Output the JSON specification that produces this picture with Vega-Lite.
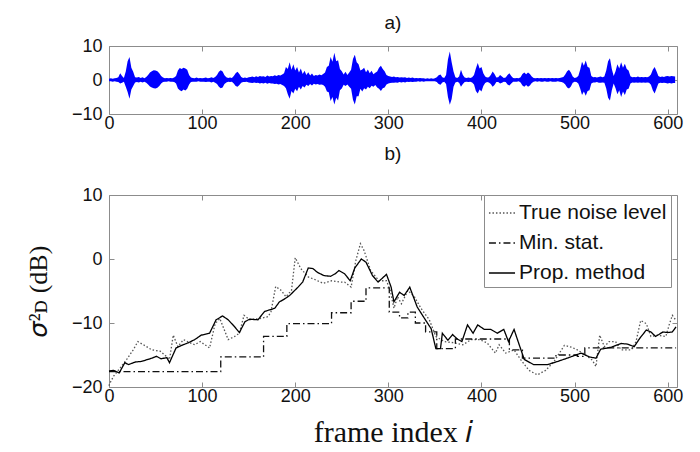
{
"$schema": "https://vega.github.io/schema/vega-lite/v6.json",
"background": "white",
"padding": {"left": 24, "top": 13, "right": 5, "bottom": 5},
"spacing": 11,
"config": {
 "font": "Liberation Sans",
 "view": {"stroke": "#8c8c8c", "strokeWidth": 1},
 "axis": {"domain": false, "grid": false, "tickSize": -5, "tickColor": "#8c8c8c", "labelFontSize": 18, "labelColor": "#111", "labelFont": "Liberation Sans", "labelFlush": false, "labelOverlap": false, "titleColor": "#111", "titleFontWeight": "normal"},
 "axisX": {"labelPadding": 5},
 "axisY": {"labelPadding": 12},
 "title": {"fontSize": 19, "fontWeight": "normal", "font": "Liberation Sans", "color": "#111"}
},
"datasets": {
 "wave": [
  {"frame":0,"lo":-0.4,"hi":0.4},{"frame":2,"lo":-0.4,"hi":0.5},{"frame":4,"lo":-0.5,"hi":0.4},{"frame":6,"lo":-0.4,"hi":0.5},{"frame":8,"lo":-0.5,"hi":0.6},{"frame":10,"lo":-0.6,"hi":0.8},{"frame":12,"lo":-1.0,"hi":2.0},{"frame":14,"lo":-0.8,"hi":1.2},{"frame":16,"lo":-0.5,"hi":0.6},{"frame":18,"lo":-2.0,"hi":2.5},
  {"frame":20,"lo":-3.5,"hi":5.5},{"frame":22,"lo":-5.5,"hi":6.8},{"frame":24,"lo":-2.8,"hi":3.6},{"frame":26,"lo":-1.8,"hi":2.4},{"frame":28,"lo":-0.7,"hi":0.8},{"frame":30,"lo":-0.6,"hi":0.7},{"frame":32,"lo":-0.7,"hi":0.9},{"frame":34,"lo":-0.5,"hi":0.6},{"frame":36,"lo":-0.7,"hi":0.8},{"frame":38,"lo":-0.5,"hi":0.5},
  {"frame":40,"lo":-0.8,"hi":0.9},{"frame":42,"lo":-1.3,"hi":1.5},{"frame":44,"lo":-1.9,"hi":2.2},{"frame":46,"lo":-2.2,"hi":2.6},{"frame":48,"lo":-2.4,"hi":2.9},{"frame":50,"lo":-2.5,"hi":2.8},{"frame":52,"lo":-2.3,"hi":2.6},{"frame":54,"lo":-1.8,"hi":2.0},{"frame":56,"lo":-1.0,"hi":1.2},{"frame":58,"lo":-0.6,"hi":0.7},
  {"frame":60,"lo":-0.5,"hi":0.5},{"frame":62,"lo":-0.5,"hi":0.6},{"frame":64,"lo":-0.4,"hi":0.5},{"frame":66,"lo":-0.5,"hi":0.6},{"frame":68,"lo":-0.5,"hi":0.5},{"frame":70,"lo":-0.6,"hi":0.7},{"frame":72,"lo":-1.0,"hi":1.2},{"frame":74,"lo":-2.5,"hi":2.8},{"frame":76,"lo":-3.0,"hi":3.5},{"frame":78,"lo":-3.3,"hi":3.2},
  {"frame":80,"lo":-2.8,"hi":3.6},{"frame":82,"lo":-3.1,"hi":3.4},{"frame":84,"lo":-2.6,"hi":3.0},{"frame":86,"lo":-1.3,"hi":1.5},{"frame":88,"lo":-0.6,"hi":0.7},{"frame":90,"lo":-0.5,"hi":0.6},{"frame":92,"lo":-0.5,"hi":0.5},{"frame":94,"lo":-0.5,"hi":0.7},{"frame":96,"lo":-0.4,"hi":0.5},{"frame":98,"lo":-0.5,"hi":0.6},
  {"frame":100,"lo":-0.5,"hi":0.5},{"frame":102,"lo":-0.5,"hi":0.6},{"frame":104,"lo":-0.6,"hi":0.7},{"frame":106,"lo":-0.5,"hi":0.5},{"frame":108,"lo":-0.5,"hi":0.6},{"frame":110,"lo":-0.7,"hi":0.8},{"frame":112,"lo":-0.5,"hi":0.6},{"frame":114,"lo":-0.8,"hi":0.9},{"frame":116,"lo":-1.2,"hi":1.5},{"frame":118,"lo":-2.0,"hi":2.4},
  {"frame":120,"lo":-2.4,"hi":2.9},{"frame":122,"lo":-2.2,"hi":2.5},{"frame":124,"lo":-1.2,"hi":1.4},{"frame":126,"lo":-0.7,"hi":0.8},{"frame":128,"lo":-0.5,"hi":0.6},{"frame":130,"lo":-0.6,"hi":0.7},{"frame":132,"lo":-0.5,"hi":0.6},{"frame":134,"lo":-1.0,"hi":1.2},{"frame":136,"lo":-1.8,"hi":2.0},{"frame":138,"lo":-2.0,"hi":2.4},
  {"frame":140,"lo":-1.5,"hi":1.8},{"frame":142,"lo":-0.8,"hi":0.9},{"frame":144,"lo":-0.6,"hi":0.6},{"frame":146,"lo":-0.6,"hi":0.7},{"frame":148,"lo":-0.5,"hi":0.6},{"frame":150,"lo":-0.7,"hi":0.8},{"frame":152,"lo":-0.8,"hi":0.9},{"frame":154,"lo":-0.9,"hi":1.0},{"frame":156,"lo":-0.7,"hi":0.8},{"frame":158,"lo":-0.9,"hi":1.1},
  {"frame":160,"lo":-0.8,"hi":0.9},{"frame":162,"lo":-1.0,"hi":1.2},{"frame":164,"lo":-0.9,"hi":1.0},{"frame":166,"lo":-1.0,"hi":1.1},{"frame":168,"lo":-0.8,"hi":0.9},{"frame":170,"lo":-1.1,"hi":1.3},{"frame":172,"lo":-0.9,"hi":1.0},{"frame":174,"lo":-1.0,"hi":1.2},{"frame":176,"lo":-1.0,"hi":1.1},{"frame":178,"lo":-1.2,"hi":1.4},
  {"frame":180,"lo":-1.1,"hi":1.2},{"frame":182,"lo":-1.3,"hi":1.5},{"frame":184,"lo":-1.2,"hi":1.3},{"frame":186,"lo":-1.5,"hi":1.6},{"frame":188,"lo":-1.8,"hi":2.0},{"frame":190,"lo":-2.4,"hi":3.8},{"frame":192,"lo":-4.2,"hi":3.2},{"frame":194,"lo":-5.5,"hi":5.2},{"frame":196,"lo":-3.2,"hi":3.0},{"frame":198,"lo":-4.0,"hi":4.6},
  {"frame":200,"lo":-2.6,"hi":2.8},{"frame":202,"lo":-3.3,"hi":3.8},{"frame":204,"lo":-2.0,"hi":2.2},{"frame":206,"lo":-2.8,"hi":3.4},{"frame":208,"lo":-1.8,"hi":1.8},{"frame":210,"lo":-2.2,"hi":2.7},{"frame":212,"lo":-1.4,"hi":1.5},{"frame":214,"lo":-1.8,"hi":2.3},{"frame":216,"lo":-1.2,"hi":1.3},{"frame":218,"lo":-1.6,"hi":1.9},
  {"frame":220,"lo":-1.1,"hi":1.2},{"frame":222,"lo":-1.3,"hi":1.5},{"frame":224,"lo":-1.2,"hi":1.3},{"frame":226,"lo":-1.4,"hi":1.6},{"frame":228,"lo":-1.3,"hi":1.4},{"frame":230,"lo":-1.5,"hi":1.8},{"frame":232,"lo":-2.0,"hi":2.2},{"frame":234,"lo":-3.4,"hi":3.8},{"frame":236,"lo":-3.6,"hi":4.2},{"frame":238,"lo":-6.2,"hi":6.8},
  {"frame":240,"lo":-5.0,"hi":5.4},{"frame":242,"lo":-7.2,"hi":8.0},{"frame":244,"lo":-5.2,"hi":5.5},{"frame":246,"lo":-6.0,"hi":5.8},{"frame":248,"lo":-3.0,"hi":3.2},{"frame":250,"lo":-2.5,"hi":2.6},{"frame":252,"lo":-1.4,"hi":1.6},{"frame":254,"lo":-1.8,"hi":2.4},{"frame":256,"lo":-1.3,"hi":1.5},{"frame":258,"lo":-2.0,"hi":2.2},
  {"frame":260,"lo":-2.6,"hi":3.0},{"frame":262,"lo":-5.8,"hi":6.2},{"frame":264,"lo":-7.2,"hi":7.4},{"frame":266,"lo":-4.8,"hi":5.2},{"frame":268,"lo":-4.8,"hi":4.6},{"frame":270,"lo":-2.6,"hi":2.8},{"frame":272,"lo":-3.4,"hi":3.1},{"frame":274,"lo":-2.4,"hi":3.6},{"frame":276,"lo":-2.8,"hi":2.3},{"frame":278,"lo":-2.0,"hi":3.1},
  {"frame":280,"lo":-2.4,"hi":2.0},{"frame":282,"lo":-1.7,"hi":2.7},{"frame":284,"lo":-2.0,"hi":1.7},{"frame":286,"lo":-1.5,"hi":2.1},{"frame":288,"lo":-2.2,"hi":2.5},{"frame":290,"lo":-2.6,"hi":3.6},{"frame":292,"lo":-3.2,"hi":4.2},{"frame":294,"lo":-2.4,"hi":3.2},{"frame":296,"lo":-2.2,"hi":2.6},{"frame":298,"lo":-1.3,"hi":1.5},
  {"frame":300,"lo":-1.0,"hi":1.2},{"frame":302,"lo":-0.9,"hi":1.0},{"frame":304,"lo":-0.8,"hi":0.9},{"frame":306,"lo":-0.8,"hi":1.0},{"frame":308,"lo":-0.7,"hi":0.8},{"frame":310,"lo":-0.8,"hi":0.9},{"frame":312,"lo":-0.6,"hi":0.7},{"frame":314,"lo":-0.7,"hi":0.8},{"frame":316,"lo":-0.6,"hi":0.7},{"frame":318,"lo":-0.7,"hi":0.8},
  {"frame":320,"lo":-0.5,"hi":0.6},{"frame":322,"lo":-0.6,"hi":0.7},{"frame":324,"lo":-0.5,"hi":0.6},{"frame":326,"lo":-0.6,"hi":0.7},{"frame":328,"lo":-0.5,"hi":0.5},{"frame":330,"lo":-0.5,"hi":0.6},{"frame":332,"lo":-0.4,"hi":0.5},{"frame":334,"lo":-0.5,"hi":0.6},{"frame":336,"lo":-0.4,"hi":0.5},{"frame":338,"lo":-0.5,"hi":0.5},
  {"frame":340,"lo":-0.4,"hi":0.4},{"frame":342,"lo":-0.4,"hi":0.5},{"frame":344,"lo":-0.4,"hi":0.4},{"frame":346,"lo":-0.4,"hi":0.5},{"frame":348,"lo":-0.4,"hi":0.4},{"frame":350,"lo":-0.4,"hi":0.5},{"frame":352,"lo":-0.6,"hi":0.8},{"frame":354,"lo":-1.2,"hi":1.4},{"frame":356,"lo":-1.4,"hi":1.6},{"frame":358,"lo":-0.7,"hi":0.8},
  {"frame":360,"lo":-0.5,"hi":0.6},{"frame":362,"lo":-1.2,"hi":1.5},{"frame":364,"lo":-5.0,"hi":6.0},{"frame":366,"lo":-7.3,"hi":8.4},{"frame":368,"lo":-5.6,"hi":5.2},{"frame":370,"lo":-2.0,"hi":2.5},{"frame":372,"lo":-0.7,"hi":0.8},{"frame":374,"lo":-0.5,"hi":0.6},{"frame":376,"lo":-0.8,"hi":1.0},{"frame":378,"lo":-2.0,"hi":3.0},
  {"frame":380,"lo":-1.2,"hi":1.5},{"frame":382,"lo":-0.6,"hi":0.7},{"frame":384,"lo":-0.5,"hi":0.6},{"frame":386,"lo":-0.6,"hi":0.7},{"frame":388,"lo":-0.5,"hi":0.6},{"frame":390,"lo":-0.7,"hi":0.8},{"frame":392,"lo":-1.3,"hi":1.5},{"frame":394,"lo":-3.2,"hi":3.4},{"frame":396,"lo":-4.0,"hi":5.0},{"frame":398,"lo":-2.8,"hi":3.4},
  {"frame":400,"lo":-3.4,"hi":3.8},{"frame":402,"lo":-1.8,"hi":2.0},{"frame":404,"lo":-0.9,"hi":1.0},{"frame":406,"lo":-0.6,"hi":0.7},{"frame":408,"lo":-0.7,"hi":0.8},{"frame":410,"lo":-1.2,"hi":1.5},{"frame":412,"lo":-2.0,"hi":2.5},{"frame":414,"lo":-1.5,"hi":1.8},{"frame":416,"lo":-0.6,"hi":0.7},{"frame":418,"lo":-0.6,"hi":0.8},
  {"frame":420,"lo":-1.0,"hi":1.5},{"frame":422,"lo":-0.8,"hi":1.0},{"frame":424,"lo":-0.5,"hi":0.6},{"frame":426,"lo":-0.6,"hi":0.7},{"frame":428,"lo":-1.3,"hi":1.5},{"frame":430,"lo":-1.6,"hi":2.0},{"frame":432,"lo":-1.0,"hi":1.2},{"frame":434,"lo":-0.5,"hi":0.6},{"frame":436,"lo":-0.5,"hi":0.5},{"frame":438,"lo":-0.5,"hi":0.6},
  {"frame":440,"lo":-0.4,"hi":0.5},{"frame":442,"lo":-0.7,"hi":0.8},{"frame":444,"lo":-1.6,"hi":1.8},{"frame":446,"lo":-2.0,"hi":2.2},{"frame":448,"lo":-1.5,"hi":1.7},{"frame":450,"lo":-2.0,"hi":2.2},{"frame":452,"lo":-1.6,"hi":1.8},{"frame":454,"lo":-0.9,"hi":1.0},{"frame":456,"lo":-0.5,"hi":0.6},{"frame":458,"lo":-0.4,"hi":0.5},
  {"frame":460,"lo":-0.5,"hi":0.6},{"frame":462,"lo":-0.4,"hi":0.5},{"frame":464,"lo":-0.5,"hi":0.6},{"frame":466,"lo":-0.5,"hi":0.5},{"frame":468,"lo":-0.4,"hi":0.6},{"frame":470,"lo":-0.5,"hi":0.5},{"frame":472,"lo":-0.5,"hi":0.6},{"frame":474,"lo":-0.4,"hi":0.5},{"frame":476,"lo":-0.5,"hi":0.6},{"frame":478,"lo":-0.5,"hi":0.5},
  {"frame":480,"lo":-0.5,"hi":0.6},{"frame":482,"lo":-0.4,"hi":0.5},{"frame":484,"lo":-0.5,"hi":0.6},{"frame":486,"lo":-0.6,"hi":0.7},{"frame":488,"lo":-0.8,"hi":0.9},{"frame":490,"lo":-1.3,"hi":1.6},{"frame":492,"lo":-2.2,"hi":2.6},{"frame":494,"lo":-2.5,"hi":3.0},{"frame":496,"lo":-1.9,"hi":2.2},{"frame":498,"lo":-0.8,"hi":1.0},
  {"frame":500,"lo":-0.5,"hi":0.6},{"frame":502,"lo":-0.6,"hi":0.7},{"frame":504,"lo":-1.0,"hi":1.2},{"frame":506,"lo":-2.5,"hi":3.0},{"frame":508,"lo":-4.4,"hi":5.4},{"frame":510,"lo":-3.4,"hi":4.2},{"frame":512,"lo":-4.6,"hi":5.7},{"frame":514,"lo":-3.2,"hi":3.8},{"frame":516,"lo":-3.0,"hi":3.6},{"frame":518,"lo":-1.0,"hi":1.2},
  {"frame":520,"lo":-0.7,"hi":0.8},{"frame":522,"lo":-0.7,"hi":0.9},{"frame":524,"lo":-0.6,"hi":0.7},{"frame":526,"lo":-0.8,"hi":0.9},{"frame":528,"lo":-0.8,"hi":1.0},{"frame":530,"lo":-0.7,"hi":0.8},{"frame":532,"lo":-0.8,"hi":1.0},{"frame":534,"lo":-2.5,"hi":2.8},{"frame":536,"lo":-5.2,"hi":5.5},{"frame":538,"lo":-6.0,"hi":6.4},
  {"frame":540,"lo":-3.0,"hi":3.2},{"frame":542,"lo":-1.0,"hi":1.2},{"frame":544,"lo":-2.4,"hi":2.6},{"frame":546,"lo":-4.2,"hi":4.6},{"frame":548,"lo":-3.0,"hi":3.4},{"frame":550,"lo":-5.0,"hi":5.2},{"frame":552,"lo":-3.4,"hi":3.6},{"frame":554,"lo":-4.4,"hi":4.8},{"frame":556,"lo":-2.8,"hi":3.2},{"frame":558,"lo":-2.6,"hi":2.8},
  {"frame":560,"lo":-1.0,"hi":1.1},{"frame":562,"lo":-0.7,"hi":0.8},{"frame":564,"lo":-0.8,"hi":0.9},{"frame":566,"lo":-0.7,"hi":0.8},{"frame":568,"lo":-0.8,"hi":1.0},{"frame":570,"lo":-0.7,"hi":0.8},{"frame":572,"lo":-0.8,"hi":0.9},{"frame":574,"lo":-0.7,"hi":0.8},{"frame":576,"lo":-0.8,"hi":0.9},{"frame":578,"lo":-0.7,"hi":0.8},
  {"frame":580,"lo":-0.8,"hi":1.0},{"frame":582,"lo":-1.4,"hi":1.6},{"frame":584,"lo":-3.0,"hi":3.0},{"frame":586,"lo":-4.0,"hi":3.8},{"frame":588,"lo":-2.5,"hi":2.6},{"frame":590,"lo":-1.0,"hi":1.2},{"frame":592,"lo":-0.8,"hi":0.9},{"frame":594,"lo":-0.9,"hi":1.0},{"frame":596,"lo":-0.8,"hi":0.9},{"frame":598,"lo":-0.9,"hi":1.1},
  {"frame":600,"lo":-1.0,"hi":1.2},{"frame":602,"lo":-0.9,"hi":1.0},{"frame":604,"lo":-1.0,"hi":1.2},{"frame":606,"lo":-0.9,"hi":1.1},{"frame":608,"lo":-0.9,"hi":1.0}
 ],
 "truth": [
  {"frame":0,"value":-19.8},{"frame":1,"value":-19.4},{"frame":5,"value":-18.3},{"frame":12,"value":-17.0},{"frame":19,"value":-15.7},{"frame":26,"value":-14.2},{"frame":31,"value":-12.9},{"frame":37,"value":-13.4},{"frame":46,"value":-14.2},{"frame":55,"value":-14.4},
  {"frame":60,"value":-15.0},{"frame":65,"value":-15.7},{"frame":69,"value":-11.9},{"frame":74,"value":-13.7},{"frame":80,"value":-12.6},{"frame":87,"value":-13.1},{"frame":92,"value":-13.4},{"frame":98,"value":-12.9},{"frame":108,"value":-13.9},{"frame":114,"value":-10.1},
  {"frame":119,"value":-9.3},{"frame":128,"value":-12.6},{"frame":135,"value":-12.1},{"frame":140,"value":-11.6},{"frame":145,"value":-8.8},{"frame":151,"value":-9.5},{"frame":162,"value":-9.3},{"frame":171,"value":-9.0},{"frame":174,"value":-8.2},{"frame":179,"value":-4.3},
  {"frame":185,"value":-4.9},{"frame":190,"value":-5.9},{"frame":196,"value":-4.9},{"frame":200,"value":0.2},{"frame":206,"value":-1.5},{"frame":214,"value":-2.8},{"frame":221,"value":-3.2},{"frame":230,"value":-3.8},{"frame":239,"value":-3.4},{"frame":248,"value":-3.6},
  {"frame":253,"value":-3.6},{"frame":260,"value":-4.4},{"frame":265,"value":-0.3},{"frame":270,"value":2.4},{"frame":274,"value":1.3},{"frame":281,"value":-1.8},{"frame":290,"value":-3.4},{"frame":298,"value":-3.4},{"frame":302,"value":-4.9},{"frame":306,"value":-7.7},
  {"frame":310,"value":-5.9},{"frame":314,"value":-7.0},{"frame":321,"value":-4.9},{"frame":328,"value":-5.9},{"frame":335,"value":-7.7},{"frame":344,"value":-9.5},{"frame":351,"value":-12.1},{"frame":360,"value":-12.9},{"frame":371,"value":-13.1},{"frame":380,"value":-13.4},
  {"frame":389,"value":-12.6},{"frame":398,"value":-12.6},{"frame":406,"value":-13.1},{"frame":415,"value":-14.7},{"frame":419,"value":-13.4},{"frame":426,"value":-14.7},{"frame":435,"value":-14.2},{"frame":442,"value":-15.7},{"frame":451,"value":-17.4},{"frame":460,"value":-18.1},
  {"frame":469,"value":-17.4},{"frame":478,"value":-16.0},{"frame":489,"value":-13.5},{"frame":497,"value":-13.8},{"frame":503,"value":-14.2},{"frame":512,"value":-15.0},{"frame":519,"value":-15.8},{"frame":523,"value":-16.8},{"frame":527,"value":-11.9},{"frame":532,"value":-13.7},
  {"frame":537,"value":-12.9},{"frame":544,"value":-12.9},{"frame":550,"value":-14.2},{"frame":561,"value":-14.2},{"frame":566,"value":-12.9},{"frame":571,"value":-9.6},{"frame":577,"value":-10.1},{"frame":582,"value":-12.1},{"frame":589,"value":-11.9},{"frame":598,"value":-12.1},
  {"frame":602,"value":-10.1},{"frame":605,"value":-8.8},{"frame":609,"value":-9.6}
 ],
 "minstat": [
  {"frame":0,"value":-17.6},{"frame":120,"value":-15.3},{"frame":166,"value":-12.1},{"frame":191,"value":-10.1},{"frame":239,"value":-8.4},{"frame":260,"value":-6.6},{"frame":276,"value":-4.5},{"frame":301,"value":-8.3},{"frame":312,"value":-9.2},{"frame":321,"value":-8.3},
  {"frame":329,"value":-10.0},{"frame":340,"value":-11.4},{"frame":352,"value":-14.0},{"frame":372,"value":-12.5},{"frame":430,"value":-14.2},{"frame":444,"value":-15.5},{"frame":480,"value":-15.0},{"frame":503,"value":-15.2},{"frame":511,"value":-13.9},{"frame":609,"value":-13.9}
 ],
 "prop": [
  {"frame":0,"value":-17.5},{"frame":5,"value":-17.4},{"frame":11,"value":-17.8},{"frame":17,"value":-16.2},{"frame":21,"value":-16.5},{"frame":28,"value":-16.1},{"frame":35,"value":-16.0},{"frame":46,"value":-15.5},{"frame":51,"value":-15.2},{"frame":56,"value":-15.6},
  {"frame":62,"value":-15.4},{"frame":65,"value":-16.2},{"frame":72,"value":-13.9},{"frame":78,"value":-13.5},{"frame":85,"value":-13.1},{"frame":92,"value":-12.6},{"frame":99,"value":-11.9},{"frame":108,"value":-11.6},{"frame":115,"value":-9.5},{"frame":122,"value":-8.9},
  {"frame":128,"value":-9.5},{"frame":135,"value":-10.6},{"frame":140,"value":-11.5},{"frame":146,"value":-9.8},{"frame":151,"value":-9.4},{"frame":160,"value":-9.5},{"frame":167,"value":-8.2},{"frame":178,"value":-7.7},{"frame":183,"value":-6.7},{"frame":189,"value":-6.2},
  {"frame":194,"value":-5.7},{"frame":203,"value":-4.4},{"frame":208,"value":-3.6},{"frame":214,"value":-1.4},{"frame":219,"value":-1.5},{"frame":224,"value":-2.1},{"frame":231,"value":-2.6},{"frame":238,"value":-2.7},{"frame":243,"value":-2.3},{"frame":247,"value":-1.8},
  {"frame":253,"value":-2.3},{"frame":259,"value":-3.4},{"frame":264,"value":-1.4},{"frame":271,"value":0.0},{"frame":276,"value":-0.5},{"frame":283,"value":-2.6},{"frame":289,"value":-3.6},{"frame":298,"value":-2.4},{"frame":303,"value":-4.4},{"frame":306,"value":-6.7},
  {"frame":312,"value":-5.2},{"frame":317,"value":-5.7},{"frame":323,"value":-4.4},{"frame":331,"value":-7.5},{"frame":338,"value":-9.1},{"frame":346,"value":-10.9},{"frame":351,"value":-14.0},{"frame":356,"value":-14.0},{"frame":358,"value":-11.6},{"frame":364,"value":-12.7},
  {"frame":369,"value":-11.8},{"frame":374,"value":-12.5},{"frame":379,"value":-12.9},{"frame":385,"value":-10.3},{"frame":391,"value":-11.6},{"frame":396,"value":-10.3},{"frame":403,"value":-11.0},{"frame":410,"value":-11.0},{"frame":417,"value":-11.6},{"frame":424,"value":-11.0},
  {"frame":429,"value":-12.9},{"frame":435,"value":-11.0},{"frame":441,"value":-13.6},{"frame":446,"value":-15.7},{"frame":456,"value":-16.5},{"frame":462,"value":-16.5},{"frame":471,"value":-16.5},{"frame":482,"value":-16.0},{"frame":492,"value":-15.5},{"frame":507,"value":-14.7},
  {"frame":516,"value":-15.3},{"frame":523,"value":-15.5},{"frame":528,"value":-14.1},{"frame":539,"value":-13.8},{"frame":550,"value":-13.2},{"frame":557,"value":-13.3},{"frame":564,"value":-13.7},{"frame":570,"value":-12.4},{"frame":577,"value":-11.1},{"frame":582,"value":-11.4},
  {"frame":587,"value":-12.1},{"frame":595,"value":-11.4},{"frame":600,"value":-11.5},{"frame":605,"value":-11.4},{"frame":609,"value":-10.6}
 ]
},
"vconcat": [
 {
  "title": {"text": "a)", "offset": 4},
  "width": 568,
  "height": 68,
  "data": {"name": "wave"},
  "resolve": {"axis": {"x": "independent", "y": "independent"}},
  "layer": [
   {
    "mark": {"type": "area", "color": "#0000ff", "strokeWidth": 0},
    "encoding": {
     "x": {"field": "frame", "type": "quantitative", "scale": {"domain": [0, 610], "nice": false}, "axis": {"values": [0, 100, 200, 300, 400, 500, 600], "title": null}},
     "y": {"field": "lo", "type": "quantitative", "scale": {"domain": [-10, 10], "nice": false}, "axis": {"values": [-10, 0, 10], "title": null}},
     "y2": {"field": "hi"}
    }
   },
   {
    "mark": {"type": "area", "opacity": 0},
    "encoding": {
     "x": {"field": "frame", "type": "quantitative", "scale": {"domain": [0, 610], "nice": false}, "axis": {"orient": "top", "values": [0, 100, 200, 300, 400, 500, 600], "labels": false, "title": null}},
     "y": {"field": "lo", "type": "quantitative", "scale": {"domain": [-10, 10], "nice": false}, "axis": {"orient": "right", "values": [-10, 0, 10], "labels": false, "title": null}},
     "y2": {"field": "hi"}
    }
   }
  ]
 },
 {
  "title": {"text": "b)", "offset": 22},
  "width": 568,
  "height": 192,
  "resolve": {"axis": {"x": "independent", "y": "independent"}},
  "layer": [
   {
    "layer": [
     {
      "data": {"name": "truth"},
      "mark": {"type": "line"},
      "encoding": {
       "x": {"field": "frame", "type": "quantitative"},
       "y": {"field": "value", "type": "quantitative"},
       "color": {"datum": "True noise level"},
       "strokeDash": {"datum": "True noise level"},
       "strokeWidth": {"datum": "True noise level"}
      }
     },
     {
      "data": {"name": "minstat"},
      "mark": {"type": "line", "interpolate": "step-after"},
      "encoding": {
       "x": {"field": "frame", "type": "quantitative"},
       "y": {"field": "value", "type": "quantitative"},
       "color": {"datum": "Min. stat."},
       "strokeDash": {"datum": "Min. stat."},
       "strokeWidth": {"datum": "Min. stat."}
      }
     },
     {
      "data": {"name": "prop"},
      "mark": {"type": "line"},
      "encoding": {
       "x": {"field": "frame", "type": "quantitative", "scale": {"domain": [0, 610], "nice": false}, "axis": {"values": [0, 100, 200, 300, 400, 500, 600], "title": "frame index 𝑖", "titleFont": "Liberation Serif", "titleFontSize": 30, "titlePadding": 12}},
       "y": {"field": "value", "type": "quantitative", "scale": {"domain": [-20, 10], "nice": false}, "axis": {"values": [-20, -10, 0, 10], "title": "𝜎²ᴅ (dB)", "titleFont": "Liberation Serif", "titleFontSize": 26, "titlePadding": 20}},
       "color": {"datum": "Prop. method", "type": "nominal", "scale": {"domain": ["True noise level", "Min. stat.", "Prop. method"], "range": ["#555555", "#111111", "#000000"]},
        "legend": {"title": null, "orient": "none", "legendX": 375, "legendY": 149, "fillColor": "white", "strokeColor": "#8c8c8c", "padding": 4, "symbolType": "stroke", "symbolSize": 680, "labelFontSize": 21, "labelFont": "Liberation Sans", "labelColor": "#111", "rowPadding": 6, "labelOffset": 3}},
       "strokeDash": {"datum": "Prop. method", "type": "nominal", "scale": {"domain": ["True noise level", "Min. stat.", "Prop. method"], "range": [[1.5, 2], [7, 3, 1.5, 3], [1, 0]]}},
       "strokeWidth": {"datum": "Prop. method", "type": "nominal", "scale": {"domain": ["True noise level", "Min. stat.", "Prop. method"], "range": [1.3, 1.3, 2.4]}}
      }
     }
    ]
   },
   {
    "data": {"name": "prop"},
    "mark": {"type": "line", "opacity": 0},
    "encoding": {
     "x": {"field": "frame", "type": "quantitative", "scale": {"domain": [0, 610], "nice": false}, "axis": {"orient": "top", "values": [0, 100, 200, 300, 400, 500, 600], "labels": false, "title": null}},
     "y": {"field": "value", "type": "quantitative", "scale": {"domain": [-20, 10], "nice": false}, "axis": {"orient": "right", "values": [-20, -10, 0, 10], "labels": false, "title": null}}
    }
   }
  ]
 }
]
}
